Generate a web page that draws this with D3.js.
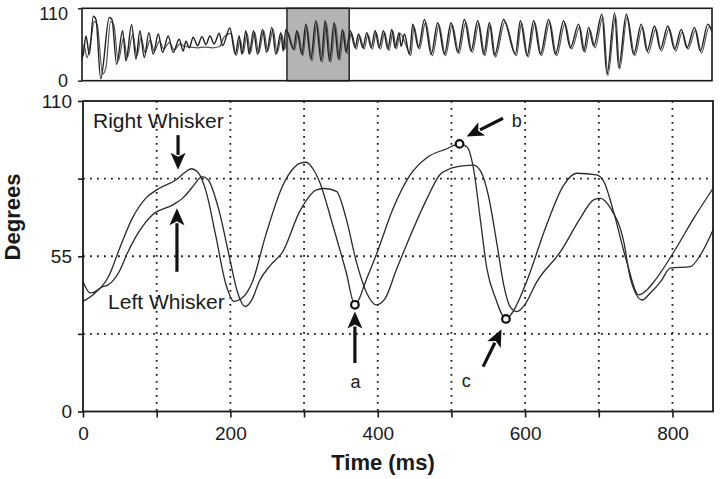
<!DOCTYPE html>
<html>
<head>
<meta charset="utf-8">
<script src="https://cdn.jsdelivr.net/npm/d3@7"></script>
<style>
  body { margin: 0; background: #fff; }
  svg { display: block; font-family: "Liberation Sans", Arial, sans-serif; }
</style>
</head>
<body>
<div id="chart"></div>
<script>
// overview trace (whole trial), times in ms, angle in degrees
const overviewTimes1 = [0,18,55,101,156,193,258,377,414,478,561,607,685,745,800,860,924,984,1053,1113,1190,1259,1342,1397,1435,1481,1536,1596,1656,1711,1766,1826,1895,1941,2042,2116,2171,2208,2263,2309,2369,2424,2493,2549,2622,2677,2746,2778,2815,2921,2967,3036,3091,3160,3229,3303,3358,3418,3482,3542,3597,3648,3703,3772,3818,3878,3933,3993,4048,4103,4163,4223,4278,4324,4379,4407,4453,4522,4568,4646,4729,4821,4913,5005,5097,5189,5281,5373,5465,5548,5626,5695,5823,5985,6054,6146,6238,6330,6445,6537,6652,6744,6859,6928,6997,7066,7180,7249,7355,7411,7517,7618,7724,7802,7907,7986,8091,8183,8276,8353,8459,8538,8643,8700];
const overviewValues1 = [35,40,68,40,98,93,3,96,93,25,76,30,85,33,76,35,73,40,71,43,68,43,63,45,60,50,66,53,67,55,68,56,72,53,80,40,68,40,76,40,76,40,78,43,81,40,73,45,78,48,76,40,86,33,91,30,91,30,88,33,78,43,76,50,71,50,73,50,76,50,76,48,78,50,73,52,71,40,86,50,93,40,88,40,88,43,93,45,91,40,88,38,93,40,91,38,91,40,93,40,91,50,86,45,81,53,101,10,103,20,101,40,86,45,83,48,83,48,78,50,81,45,86,76];

const overviewTimes2 = [0,25,70,120,170,210,285,330,395,440,500,575,625,700,760,815,875,940,1000,1070,1130,1205,1275,1355,1420,1500,1600,1700,1800,1900,1960,2060,2130,2185,2225,2280,2325,2385,2440,2510,2565,2640,2695,2760,2800,2835,2935,2985,3050,3105,3175,3245,3320,3375,3435,3500,3560,3615,3665,3720,3790,3835,3895,3950,4010,4065,4120,4180,4240,4295,4340,4395,4470,4540,4585,4660,4745,4840,4930,5020,5115,5205,5300,5390,5480,5565,5640,5710,5840,6000,6070,6160,6255,6345,6460,6555,6670,6760,6875,6945,7015,7085,7195,7262,7370,7425,7530,7635,7740,7820,7925,8000,8110,8200,8290,8370,8475,8555,8660,8700];
const overviewValues2 = [30,55,35,60,90,85,10,20,90,85,30,65,35,70,38,65,42,62,45,60,48,58,47,56,52,51,50,51,50,52,66,72,38,62,42,72,42,74,42,76,45,78,42,70,47,75,46,73,38,83,30,88,28,88,28,85,31,75,41,73,48,68,48,70,48,73,48,73,46,75,48,72,55,38,82,48,89,38,85,38,85,41,89,43,87,38,85,36,89,38,88,36,88,38,89,38,87,48,82,43,77,50,97,8,99,18,97,38,82,42,79,45,79,45,74,48,77,42,82,74];

// window of the overview shown enlarged below (ms)
const windowStart = 2830;
const windowEnd = 3690;

// enlarged window
const rightTimes = [0,10,20,35,50,67,85,103,126,140,147,155,167,180,194,205,215,230,248,271,285,295,303,312,321,339,357,369,375,382,398,421,444,467,493,511,521,530,539,548,560,574,585,602,629,652,670,697,707,720,738,754,765,775,802,829,855];
const rightValues = [46,42,43,48,58,68.5,75.5,79,82,85,86,85,78,62.5,45,39,40,46,62.5,80,86,88,88.3,86,81.4,66,49.5,37.8,40,45,55.5,72,83.8,90,93,94.8,93.8,86,68.5,50.8,40,32.8,36,46,66,80,84.4,83.8,81.4,70.8,53,41.3,43,46,56.6,68.5,79];

const leftTimes = [0,12,25,35,49,60,76,94,122,135,150,158,162,170,185,199,210,220,230,239,255,271,294,317,328,344,357,371,385,398,410,425,439,467,484,498,515,530,540,550,562,571,580,589,600,616,648,675,693,702,716,734,743,759,770,784,797,824,838,855];
const leftValues = [39,41,44,45,49.5,56,63.7,69.6,73.2,75.5,80,82.6,83.2,82,70.8,54.3,42,37.2,40,46,52,56.6,70.8,78.5,79,78,68.5,53,42,37.8,40,50,59,75.5,83.8,86,87,87.3,85,76.7,59,44.8,37,35.4,38,46,56.6,68.5,75,75.5,72,60,47,39.5,42,46,50.8,51.3,55.5,64.3];

// marked points a, b, c (on the right whisker trace)
const markLabels = ["a", "b", "c"];
const markTimes = [369, 511, 574];
const markValues = [37.8, 94.8, 32.8];

const xTicks = [0, 100, 200, 300, 400, 500, 600, 700, 800];
const yTicks = [0, 27.5, 55, 82.5, 110];
const yLabelTicks = [0, 55, 110];

function drawWhiskers() {

    const sirina = 720, visina = 479;
    const glavni = { left: 83, right: 713, top: 101, bottom: 411.5 };
    const pregled = { left: 82, right: 712, top: 8.3, bottom: 80.7 };
    const boja = "#1a1a1a";

    const svg = d3.select("#chart").append("svg")
        .attr("width", sirina)
        .attr("height", visina);

    // ---------- overview ----------
    const oxScale = d3.scaleLinear().domain([0, 8700]).range([pregled.left, pregled.right]);
    const oyScale = d3.scaleLinear().domain([0, 110]).range([pregled.bottom, pregled.top]);

    const ov = svg.append("g");

    ov.append("rect")
        .attr("x", oxScale(windowStart))
        .attr("y", pregled.top)
        .attr("width", oxScale(windowEnd) - oxScale(windowStart))
        .attr("height", pregled.bottom - pregled.top)
        .attr("fill", "#b4b4b4")
        .attr("stroke", boja)
        .attr("stroke-width", 1.4);

    const oLine = d3.line()
        .x(d => oxScale(d[0]))
        .y(d => oyScale(d[1]))
        .curve(d3.curveMonotoneX);

    ov.append("path")
        .datum(d3.zip(overviewTimes2, overviewValues2))
        .attr("d", oLine)
        .attr("fill", "none")
        .attr("stroke", "#555")
        .attr("stroke-width", 1.2);

    ov.append("path")
        .datum(d3.zip(overviewTimes1, overviewValues1))
        .attr("d", oLine)
        .attr("fill", "none")
        .attr("stroke", "#222")
        .attr("stroke-width", 1.4);

    ov.append("rect")
        .attr("x", pregled.left)
        .attr("y", pregled.top)
        .attr("width", pregled.right - pregled.left)
        .attr("height", pregled.bottom - pregled.top)
        .attr("fill", "none")
        .attr("stroke", boja)
        .attr("stroke-width", 1.6);

    const oAxis = ov.append("g")
        .attr("transform", `translate(${pregled.left},0)`)
        .call(d3.axisLeft(oyScale).tickValues([0, 110]).tickSize(4).tickPadding(10));
    oAxis.select(".domain").remove();
    oAxis.selectAll("line").attr("stroke", boja).attr("stroke-width", 1.4);
    oAxis.selectAll("text").attr("font-size", 18).attr("fill", boja)
        .attr("font-family", "Liberation Sans, Arial, sans-serif")
        .attr("dy", d => d === 110 ? "0.62em" : "0.3em");

    // ---------- main window ----------
    const xScale = d3.scaleLinear().domain([0, 855]).range([glavni.left, glavni.right]);
    const yScale = d3.scaleLinear().domain([0, 110]).range([glavni.bottom, glavni.top]);

    const okvir = svg.append("g");

    // dotted grid
    okvir.append("g").selectAll("line")
        .data(xTicks.filter(d => d > 0))
        .enter().append("line")
            .attr("x1", d => xScale(d))
            .attr("x2", d => xScale(d))
            .attr("y1", glavni.top)
            .attr("y2", glavni.bottom)
            .attr("stroke", boja)
            .attr("stroke-width", 1.8)
            .attr("stroke-dasharray", "1.8,5.2");

    okvir.append("g").selectAll("line")
        .data(yTicks.filter(d => d > 0 && d < 110))
        .enter().append("line")
            .attr("x1", glavni.left)
            .attr("x2", glavni.right)
            .attr("y1", d => yScale(d))
            .attr("y2", d => yScale(d))
            .attr("stroke", boja)
            .attr("stroke-width", 1.8)
            .attr("stroke-dasharray", "1.8,5.2");

    const line = d3.line()
        .x(d => xScale(d[0]))
        .y(d => yScale(d[1]))
        .curve(d3.curveMonotoneX);

    okvir.append("path")
        .datum(d3.zip(leftTimes, leftValues))
        .attr("d", line)
        .attr("fill", "none")
        .attr("stroke", "#2a2a2a")
        .attr("stroke-width", 1.3);

    okvir.append("path")
        .datum(d3.zip(rightTimes, rightValues))
        .attr("d", line)
        .attr("fill", "none")
        .attr("stroke", "#2a2a2a")
        .attr("stroke-width", 1.3);

    okvir.append("rect")
        .attr("x", glavni.left)
        .attr("y", glavni.top)
        .attr("width", glavni.right - glavni.left)
        .attr("height", glavni.bottom - glavni.top)
        .attr("fill", "none")
        .attr("stroke", boja)
        .attr("stroke-width", 1.8);

    // axes
    const xAxis = okvir.append("g")
        .attr("transform", `translate(0,${glavni.bottom})`)
        .call(d3.axisBottom(xScale).tickValues(xTicks)
            .tickFormat(d => d % 200 === 0 ? d : "")
            .tickSize(6).tickPadding(9));
    const yAxis = okvir.append("g")
        .attr("transform", `translate(${glavni.left},0)`)
        .call(d3.axisLeft(yScale).tickValues(yTicks)
            .tickFormat(d => yLabelTicks.includes(d) ? d : "")
            .tickSize(5).tickPadding(6));
    [xAxis, yAxis].forEach(a => {
        a.select(".domain").remove();
        a.selectAll("line").attr("stroke", boja).attr("stroke-width", 1.6);
        a.selectAll("text").attr("font-size", 19).attr("fill", boja)
            .attr("font-family", "Liberation Sans, Arial, sans-serif");
    });

    svg.append("text")
        .attr("x", (glavni.left + glavni.right) / 2 - 15)
        .attr("y", 470)
        .attr("text-anchor", "middle")
        .attr("font-size", 22)
        .attr("font-weight", "bold")
        .attr("fill", boja)
        .text("Time (ms)");

    svg.append("text")
        .attr("transform", "translate(20,217) rotate(-90)")
        .attr("text-anchor", "middle")
        .attr("font-size", 22)
        .attr("font-weight", "bold")
        .attr("fill", boja)
        .text("Degrees");

    // ---------- annotations ----------
    function arrow(t1, v1, t2, v2) {
        const x1 = xScale(t1), y1 = yScale(v1), x2 = xScale(t2), y2 = yScale(v2);
        const len = Math.hypot(x2 - x1, y2 - y1);
        const ux = (x2 - x1) / len, uy = (y2 - y1) / len;
        const hl = 17, hw = 7.5;
        const bx = x2 - ux * hl, by = y2 - uy * hl;
        okvir.append("line")
            .attr("x1", x1).attr("y1", y1)
            .attr("x2", bx + ux * 2).attr("y2", by + uy * 2)
            .attr("stroke", "#111")
            .attr("stroke-width", 3.2);
        okvir.append("path")
            .attr("d", `M${x2},${y2}L${bx - uy * hw},${by + ux * hw}L${bx + ux * 4},${by + uy * 4}L${bx + uy * hw},${by - ux * hw}Z`)
            .attr("fill", "#111");
    }

    arrow(129, 97.9, 129, 85.6);   // Right Whisker
    arrow(127.5, 49.5, 127.5, 72); // Left Whisker
    arrow(369, 17.2, 369, 35.4);   // a
    arrow(570, 103.9, 520.6, 97.4); // b
    arrow(543, 15.9, 568, 29.1);   // c

    okvir.selectAll(".marker")
        .data(d3.zip(markTimes, markValues))
        .enter().append("circle")
            .attr("class", "marker")
            .attr("cx", d => xScale(d[0]))
            .attr("cy", d => yScale(d[1]))
            .attr("r", 3.8)
            .attr("fill", "#fff")
            .attr("stroke", "#111")
            .attr("stroke-width", 2.2);

    const labelPos = [[370, 8.3, "middle"], [582, 100.9, "start"], [514, 8.7, "start"]];
    okvir.selectAll(".mlabel")
        .data(markLabels)
        .enter().append("text")
            .attr("class", "mlabel")
            .attr("x", (d, i) => xScale(labelPos[i][0]))
            .attr("y", (d, i) => yScale(labelPos[i][1]))
            .attr("text-anchor", (d, i) => labelPos[i][2])
            .attr("font-size", 18)
            .attr("fill", boja)
            .text(d => d);

    okvir.append("text")
        .attr("x", xScale(13.6))
        .attr("y", yScale(100.4))
        .attr("font-size", 21)
        .attr("fill", boja)
        .text("Right Whisker");

    okvir.append("text")
        .attr("x", xScale(34))
        .attr("y", yScale(36.3))
        .attr("font-size", 21)
        .attr("fill", boja)
        .text("Left Whisker");
}

drawWhiskers();
</script>
</body>
</html>
